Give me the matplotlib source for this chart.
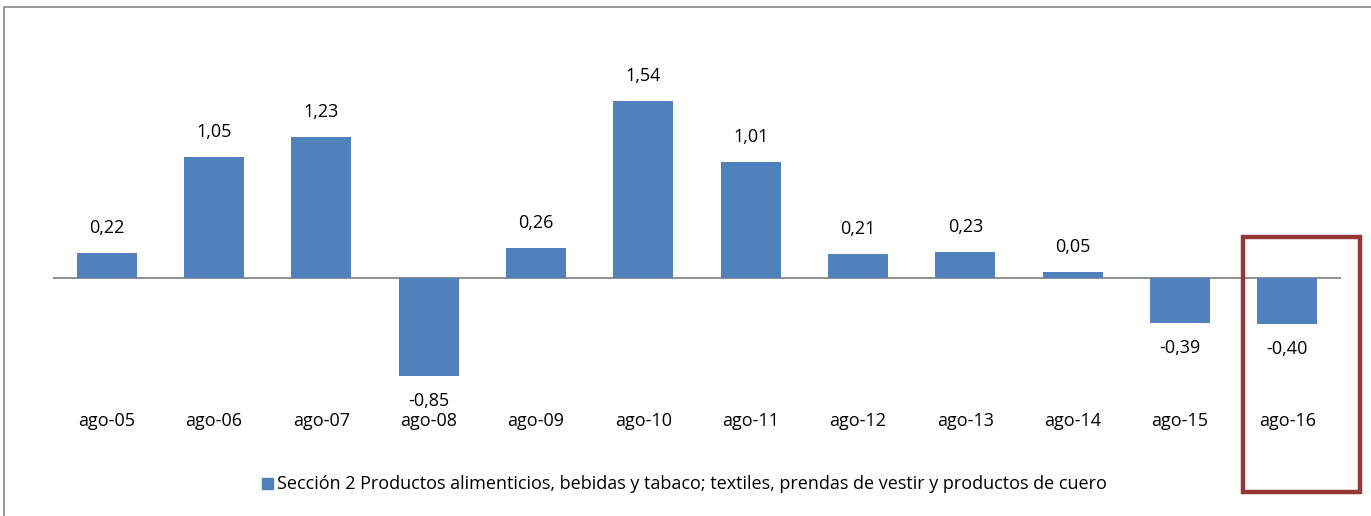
import matplotlib
matplotlib.use("Agg")
import matplotlib.pyplot as plt
from matplotlib.patches import Rectangle

categories = ["ago-05", "ago-06", "ago-07", "ago-08", "ago-09", "ago-10",
              "ago-11", "ago-12", "ago-13", "ago-14", "ago-15", "ago-16"]
values = [0.22, 1.05, 1.23, -0.85, 0.26, 1.54, 1.01, 0.21, 0.23, 0.05, -0.39, -0.40]
series_name = ("Sección 2 Productos alimenticios, bebidas y tabaco; textiles, "
               "prendas de vestir y productos de cuero")

plt.rcParams["font.family"] = ["Open Sans", "DejaVu Sans"]
FS = 13

W, H = 1371, 516
fig = plt.figure(figsize=(W / 100, H / 100), dpi=100)

# chart area border (Excel frame, cut off at right/bottom)
fig.patches.append(Rectangle((4 / W, -0.1), 1.2, 1 - 7 / H + 0.1, transform=fig.transFigure,
                             fill=False, edgecolor="#868686", linewidth=1.2))

ax = fig.add_axes([53 / W, (H - 400) / H, (1341 - 53) / W, 360 / H])
x = list(range(len(categories)))
ax.bar(x, values, width=0.56, color="#4F81BD", zorder=2)
ax.axhline(0, color="#868686", linewidth=1.3, zorder=1)
ax.set_xlim(-0.5, len(categories) - 0.5)
ax.set_ylim(-1.061, 2.07)

for xi, v in zip(x, values):
    off = 18 if v >= 0 else -18
    ax.annotate(f"{v:.2f}".replace(".", ","), (xi, v), xytext=(0, off),
                textcoords="offset points", ha="center", va="center", fontsize=FS)

ax.set_xticks(x)
ax.set_xticklabels(categories, fontsize=FS)
ax.tick_params(axis="x", length=0, pad=8.5)
ax.set_yticks([])
for s in ax.spines.values():
    s.set_visible(False)

# highlight box around last category
fig.patches.append(Rectangle((1243 / W, (H - 492) / H), 117 / W, 255 / H,
                             transform=fig.transFigure, fill=False,
                             edgecolor="#953735", linewidth=3.2))

# legend
fig.patches.append(Rectangle((262 / W, (H - 489) / H), 11 / W, 11 / H,
                             transform=fig.transFigure, color="#4F81BD"))
fig.text(277 / W, (H - 484) / H, series_name, ha="left", va="center", fontsize=FS)

fig.savefig("out.png", dpi=100)
